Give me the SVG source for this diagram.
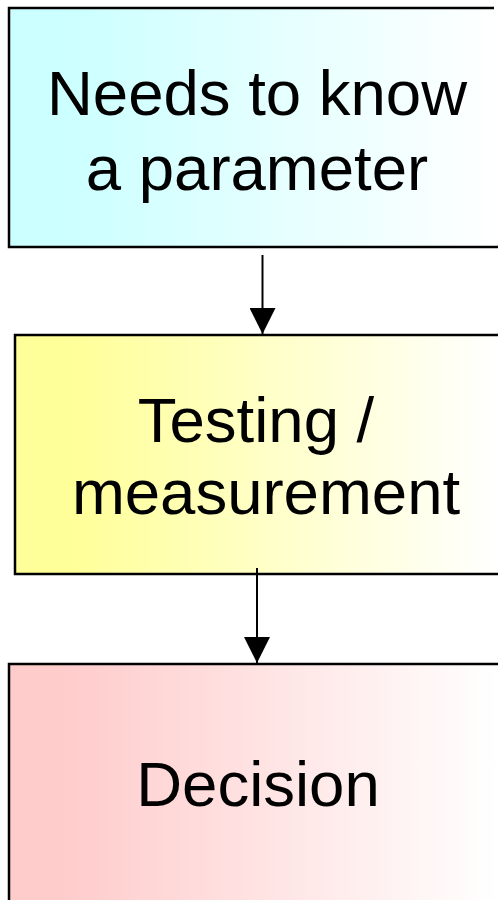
<svg xmlns="http://www.w3.org/2000/svg" width="498" height="900" viewBox="0 0 498 900">
<defs>
<linearGradient id="gCyan" x1="0" y1="0" x2="1" y2="0">
<stop offset="0.12" stop-color="#ccffff"/>
<stop offset="1" stop-color="#ffffff"/>
</linearGradient>
<linearGradient id="gYellow" x1="0" y1="0" x2="1" y2="0">
<stop offset="0.12" stop-color="#ffff99"/>
<stop offset="1" stop-color="#ffffff"/>
</linearGradient>
<linearGradient id="gPink" x1="0" y1="0" x2="1" y2="0">
<stop offset="0.12" stop-color="#ffcccc"/>
<stop offset="1" stop-color="#ffffff"/>
</linearGradient>
<marker id="arrow" viewBox="0 0 26 26" refX="26" refY="13" markerWidth="26" markerHeight="26" markerUnits="userSpaceOnUse" orient="auto">
<path d="M0,0 L26,13 L0,26 Z" fill="#000"/>
</marker>
</defs>
<style>
.box { stroke: none; }
.edge { fill: none; stroke: #000; stroke-width: 2.5; }
.label { font-family: "Liberation Sans", Arial, sans-serif; font-size: 63.5px; fill: #000; text-anchor: middle; }
.conn { stroke: #000; stroke-width: 2; fill: none; }
</style>
<g id="node-needs">
<rect class="box" x="9" y="8" width="489" height="239" fill="url(#gCyan)"/>
<path class="edge" d="M494,8 L9,8 L9,247 L498,247"/>
<text class="label" x="257" y="115">Needs to know</text>
<text class="label" x="257" y="190">a parameter</text>
</g>
<g id="node-testing">
<rect class="box" x="15" y="335" width="483" height="239" fill="url(#gYellow)"/>
<path class="edge" d="M498,335 L15,335 L15,574 L498,574"/>
<text class="label" x="256" y="442">Testing /</text>
<text class="label" x="266" y="514">measurement</text>
</g>
<g id="node-decision">
<rect class="box" x="9" y="664" width="489" height="236" fill="url(#gPink)"/>
<path class="edge" d="M498,664 L9,664 L9,900"/>
<text class="label" x="258" y="806">Decision</text>
</g>
<g id="connectors">
<line class="conn" x1="262.5" y1="255" x2="262.5" y2="334" marker-end="url(#arrow)"/>
<line class="conn" x1="257" y1="568" x2="257" y2="663" marker-end="url(#arrow)"/>
</g>
</svg>
